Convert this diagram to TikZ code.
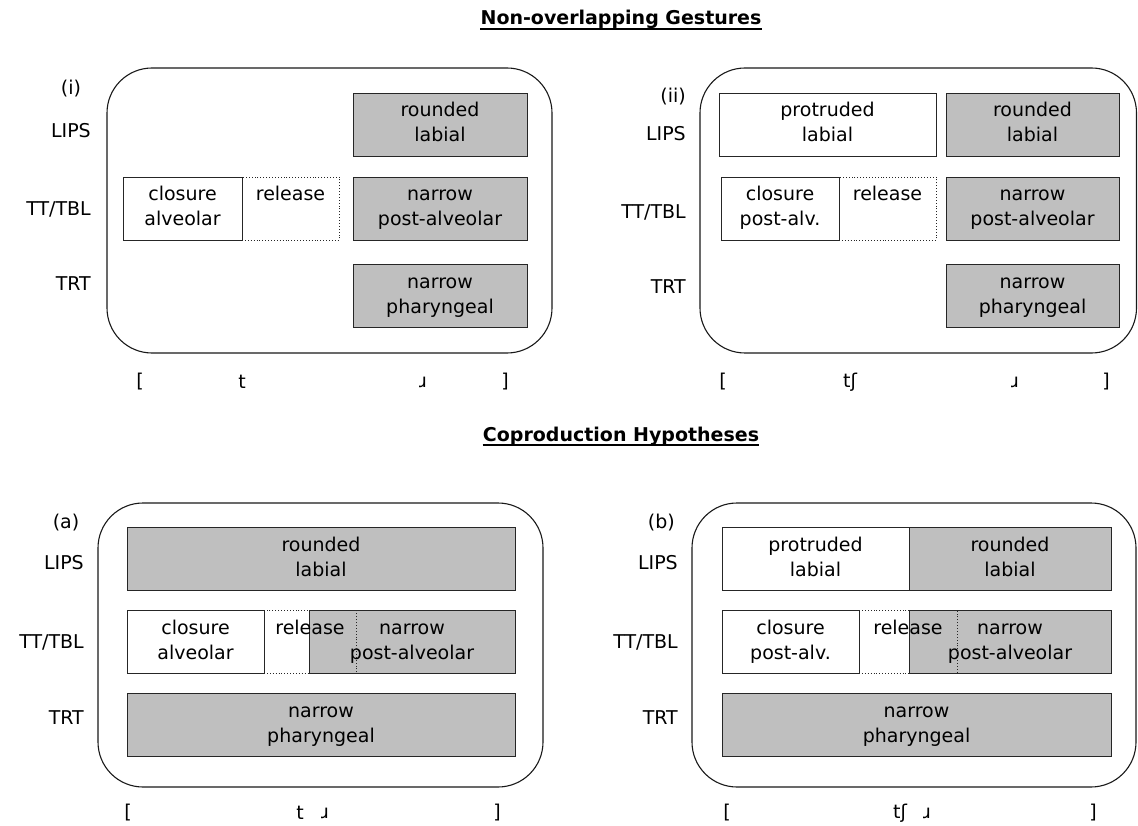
\documentclass[tikz,border=0pt]{standalone}
\usepackage{fontspec}
\setmainfont{DejaVu Sans}
\newcommand{\gfont}{\fontsize{19}{25}\selectfont}
\tikzset{
  gesto/.style={draw=black!85, line width=0.9pt, minimum height=63pt, inner sep=0pt, align=center, font=\gfont},
  gris/.style={gesto, fill=black!25},
  blanco/.style={gesto, fill=white},
  suelta/.style={gesto, dotted},
  marco/.style={draw=black!90, line width=1.1pt, rounded corners=45pt},
  rotulo/.style={font=\gfont, anchor=east, inner sep=0pt},
  fono/.style={font=\gfont, inner sep=0pt},
  titulo/.style={font=\gfont\bfseries, anchor=base, inner sep=0pt}
}
\begin{document}
\begin{tikzpicture}[x=1pt, y=-1pt]
        \useasboundingbox (0,0) rectangle (1138,826);

        % Titulos
        \node[titulo] (tit-no) at (621,25) {Non-overlapping Gestures};
        \draw[line width=1.6pt] ([yshift=-4pt]tit-no.base west) -- ([yshift=-4pt]tit-no.base east);
        \node[titulo] (tit-co) at (621,441) {Coproduction Hypotheses};
        \draw[line width=1.6pt] ([yshift=-4pt]tit-co.base west) -- ([yshift=-4pt]tit-co.base east);

        % Panel (i)
        \draw[marco] (107,68) rectangle (552,353);
        \node[fono] (i-et) at (71,89) {(i)};
        \node[rotulo] (i-lips) at (91,131) {LIPS};
        \node[rotulo] (i-tt) at (91,209) {TT/TBL};
        \node[rotulo] (i-trt) at (91,284) {TRT};
        \node[gris, minimum width=174pt] (i-red) at (440,124.5) {\strut rounded\\\strut labial};
        \node[blanco, minimum width=119pt] (i-clo) at (182.5,208.5) {\strut closure\\\strut alveolar};
        \node[suelta, minimum width=97pt] (i-rel) at (290.5,208.5) {\strut release\\\strut};
        \node[gris, minimum width=174pt] (i-nar) at (440,208.5) {\strut narrow\\\strut post-alveolar};
        \node[gris, minimum width=174pt] (i-far) at (440,296) {\strut narrow\\\strut pharyngeal};
        \node[fono] (i-ab) at (140,382) {[};
        \node[fono] (i-t) at (242,382) {t};
        \node[fono] (i-r) at (423,382) {ɹ};
        \node[fono] (i-ce) at (505,382) {]};

        % Panel (ii)
        \draw[marco] (700,68) rectangle (1136.5,353);
        \node[rotulo] (ii-et) at (686,97) {(ii)};
        \node[rotulo] (ii-lips) at (686,134) {LIPS};
        \node[rotulo] (ii-tt) at (686,212) {TT/TBL};
        \node[rotulo] (ii-trt) at (686,287) {TRT};
        \node[blanco, minimum width=217pt] (ii-pro) at (827.5,124.5) {\strut protruded\\\strut labial};
        \node[gris, minimum width=173pt] (ii-red) at (1032.5,124.5) {\strut rounded\\\strut labial};
        \node[blanco, minimum width=118pt] (ii-clo) at (780,208.5) {\strut closure\\\strut post-alv.};
        \node[suelta, minimum width=97pt] (ii-rel) at (887.5,208.5) {\strut release\\\strut};
        \node[gris, minimum width=173pt] (ii-nar) at (1032.5,208.5) {\strut narrow\\\strut post-alveolar};
        \node[gris, minimum width=173pt] (ii-far) at (1032.5,296) {\strut narrow\\\strut pharyngeal};
        \node[fono] (ii-ab) at (723,382) {[};
        \node[fono] (ii-t) at (850,382) {tʃ};
        \node[fono] (ii-r) at (1015,382) {ɹ};
        \node[fono] (ii-ce) at (1106,382) {]};

        % Panel (a)
        \draw[marco] (98,503) rectangle (543,787);
        \node[fono] (a-et) at (66,523) {(a)};
        \node[rotulo] (a-lips) at (84,563) {LIPS};
        \node[rotulo] (a-tt) at (84,642) {TT/TBL};
        \node[rotulo] (a-trt) at (84,718) {TRT};
        \node[gris, minimum width=388pt] (a-red) at (321,558.5) {\strut rounded\\\strut labial};
        \node[blanco, minimum width=137pt] (a-clo) at (195.5,641.5) {\strut closure\\\strut alveolar};
        \node[gris, minimum width=206pt] (a-nar) at (412,641.5) {\strut narrow\\\strut post-alveolar};
        \node[suelta, minimum width=92pt] (a-rel) at (310,641.5) {\strut release\\\strut};
        \node[gris, minimum width=388pt] (a-far) at (321,725) {\strut narrow\\\strut pharyngeal};
        \node[fono] (a-ab) at (128,813) {[};
        \node[fono] (a-t) at (300,813) {t};
        \node[fono] (a-r) at (325,813) {ɹ};
        \node[fono] (a-ce) at (497,813) {]};

        % Panel (b)
        \draw[marco] (692,503) rectangle (1136,787);
        \node[rotulo] (b-et) at (675,523) {(b)};
        \node[rotulo] (b-lips) at (678,563) {LIPS};
        \node[rotulo] (b-tt) at (678,642) {TT/TBL};
        \node[rotulo] (b-trt) at (678,718) {TRT};
        \node[blanco, minimum width=187pt] (b-pro) at (815.5,558.5) {\strut protruded\\\strut labial};
        \node[gris, minimum width=202pt] (b-red) at (1010,558.5) {\strut rounded\\\strut labial};
        \node[blanco, minimum width=137pt] (b-clo) at (790.5,641.5) {\strut closure\\\strut post-alv.};
        \node[gris, minimum width=202pt] (b-nar) at (1010,641.5) {\strut narrow\\\strut post-alveolar};
        \node[suelta, minimum width=98pt] (b-rel) at (908,641.5) {\strut release\\\strut};
        \node[gris, minimum width=389pt] (b-far) at (916.5,725) {\strut narrow\\\strut pharyngeal};
        \node[fono] (b-ab) at (727,813) {[};
        \node[fono] (b-t) at (900,813) {tʃ};
        \node[fono] (b-r) at (927,813) {ɹ};
        \node[fono] (b-ce) at (1093,813) {]};
    \end{tikzpicture}
\end{document}
